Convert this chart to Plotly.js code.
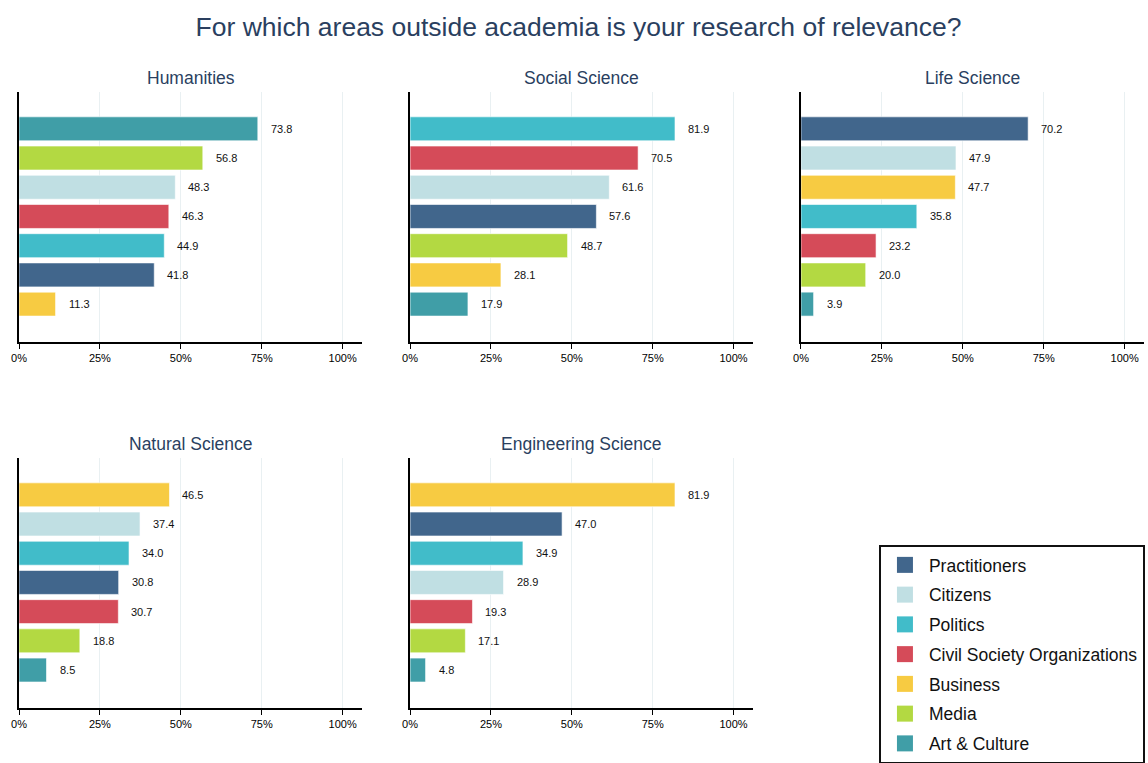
<!DOCTYPE html>
<html>
<head>
<meta charset="utf-8">
<script src="https://cdn.plot.ly/plotly-3.0.1.min.js"></script>
<style>html,body{margin:0;padding:0;background:#fff;}#chart{width:1148px;height:763px;}</style>
</head>
<body>
<div id="chart"></div>
<script>
const categories = ["Practitioners","Citizens","Politics","Civil Society Organizations","Business","Media","Art & Culture"];
const colors = ["#41668c","#c0dfe3","#41bcc9","#d54b59","#f7cb42","#b3d942","#409ea7"];
const panels = ["Humanities","Social Science","Life Science","Natural Science","Engineering Science"];
// values per panel, in the order of `categories`
const humanities   = [41.8, 48.3, 44.9, 46.3, 11.3, 56.8, 73.8];
const socialSci    = [57.6, 61.6, 81.9, 70.5, 28.1, 48.7, 17.9];
const lifeSci      = [70.2, 47.9, 35.8, 23.2, 47.7, 20.0, 3.9];
const naturalSci   = [30.8, 37.4, 34.0, 30.7, 46.5, 18.8, 8.5];
const engineering  = [47.0, 28.9, 34.9, 19.3, 81.9, 17.1, 4.8];
const panelValues = [humanities, socialSci, lifeSci, naturalSci, engineering];
const tickVals = [0, 25, 50, 75, 100];
const tickText = ["0%","25%","50%","75%","100%"];

const FONT = "Liberation Sans, Arial, sans-serif";
const xDomains = [[0,0.3049],[0.3476,0.6524],[0.6951,1],[0,0.3049],[0.3476,0.6524]];
const yDomains = [[0.594,1],[0.594,1],[0.594,1],[0,0.4058],[0,0.4058]];

const traces = [];
const annotations = [];
const layout = {
  width:1148, height:763,
  margin:{l:19, r:4, t:92, b:55, autoexpand:false},
  paper_bgcolor:"#fff", plot_bgcolor:"#fff",
  font:{family:FONT, color:"#000"},
  title:{text:"For which areas outside academia is your research of relevance?", x:0.504, xanchor:"center", xref:"container", yref:"container", y:0.965, yanchor:"middle", font:{family:FONT, size:26.5, color:"#2a3f5f"}},
  barmode:"overlay",
  showlegend:true,
  legend:{x:0.7644, y:0.2646, xanchor:"left", yanchor:"top", bordercolor:"#111", borderwidth:2, bgcolor:"#fff",
          font:{family:FONT, size:17.5, color:"#111"}, traceorder:"grouped", tracegroupgap:4, itemwidth:38},
  annotations: annotations
};

panels.forEach((p, pi) => {
  const vals = panelValues[pi];
  const ax = pi === 0 ? "" : String(pi + 1);
  const order = categories.map((c,i)=>i).sort((a,b)=>vals[a]-vals[b]);
  const catOrder = order.map(i=>categories[i]);
  categories.forEach((c, ci) => {
    traces.push({
      type:"bar", orientation:"h",
      x:[vals[ci]], y:[c],
      name:c, legendgroup:c, showlegend:false,
      marker:{color:colors[ci], line:{color:"rgba(255,255,255,0.6)", width:1}},
      width:0.82,
      xaxis:"x"+ax, yaxis:"y"+ax,
      hoverinfo:"x+name"
    });
    annotations.push({
      x:vals[ci], y:c, xref:"x"+ax, yref:"y"+ax,
      text:vals[ci].toFixed(1), showarrow:false, xanchor:"left", xshift:11,
      font:{family:FONT, size:11, color:"#111"}
    });
  });
  layout["xaxis"+ax] = {
    domain:xDomains[pi], anchor:"y"+ax, range:[0,106], tickvals:tickVals, ticktext:tickText,
    showgrid:true, gridcolor:"#e9f0f2", gridwidth:1, zeroline:false,
    showline:true, linecolor:"#000", linewidth:1.5, ticks:"outside", ticklen:5, tickcolor:"#000",
    tickfont:{family:FONT, size:11, color:"#000"}, fixedrange:true
  };
  layout["yaxis"+ax] = {
    domain:yDomains[pi], anchor:"x"+ax, type:"category", categoryorder:"array", categoryarray:catOrder,
    range:[-1.3, 7.26], showticklabels:false, showgrid:false, zeroline:false,
    showline:true, linecolor:"#000", linewidth:2, ticks:"", fixedrange:true
  };
  annotations.push({
    text:p, xref:"paper", yref:"paper",
    x:(xDomains[pi][0]+xDomains[pi][1])/2, xanchor:"center", y:yDomains[pi][1], yanchor:"bottom", yshift:2,
    showarrow:false, font:{family:FONT, size:17.5, color:"#2a3f5f"}
  });
});

// legend entries (one per category) with larger square swatches
categories.forEach((c, ci) => {
  traces.push({
    type:"scatter", mode:"markers", x:[null], y:[null], name:c, legendgroup:c, showlegend:true,
    marker:{symbol:"square", size:18, color:colors[ci]}, xaxis:"x", yaxis:"y", hoverinfo:"skip"
  });
});

Plotly.newPlot("chart", traces, layout, {displayModeBar:false, staticPlot:true});
</script>
</body>
</html>
